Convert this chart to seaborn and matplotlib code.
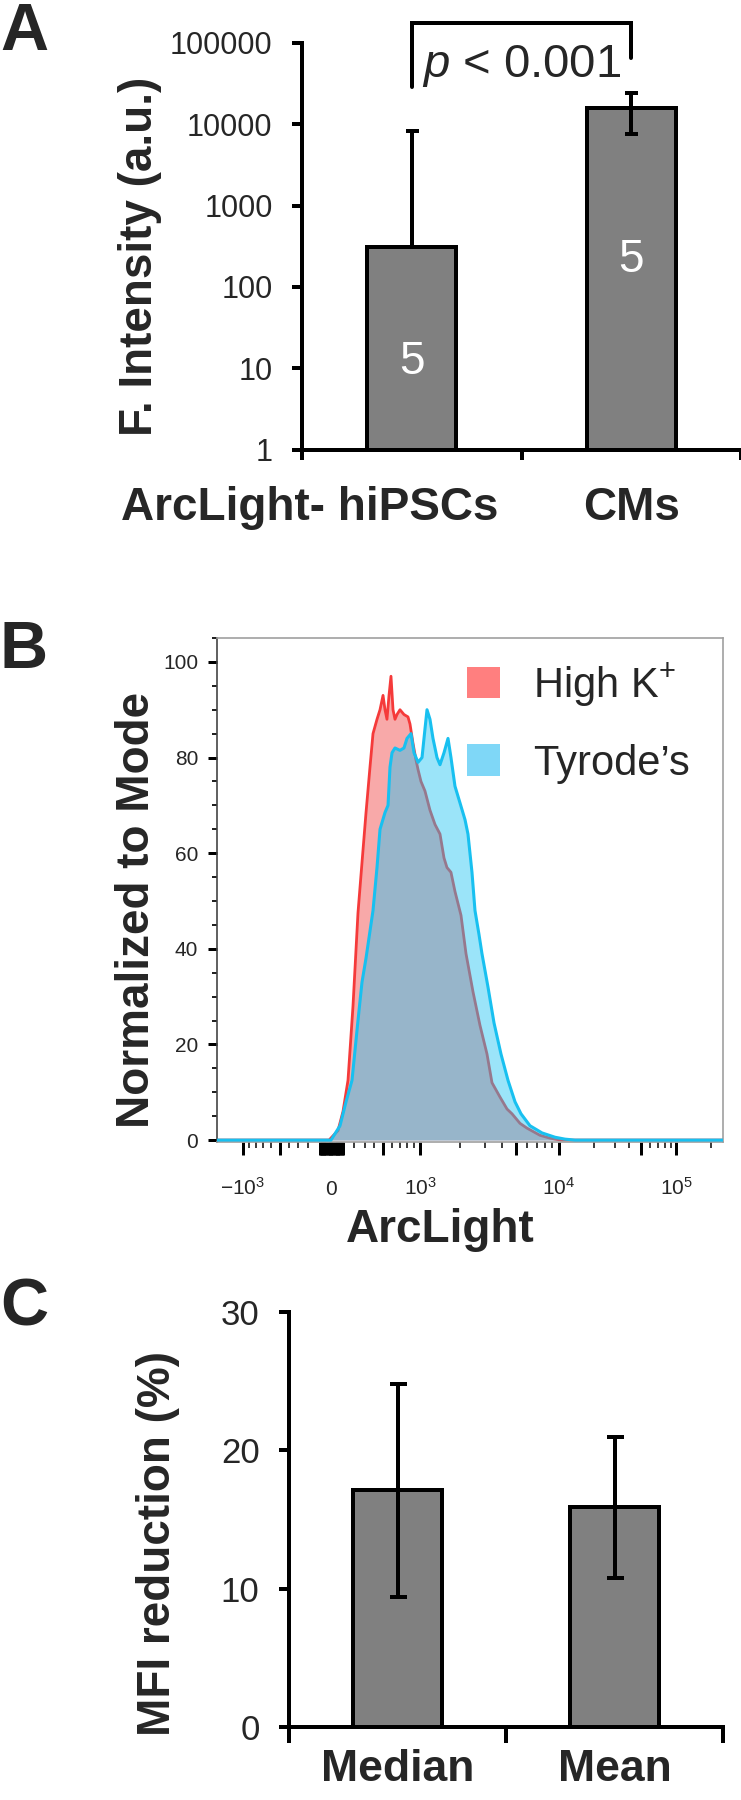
import numpy as np
import pandas as pd
import seaborn as sns
import matplotlib.pyplot as plt
from matplotlib.patches import Patch
from matplotlib.ticker import NullLocator
from matplotlib.transforms import blended_transform_factory

# ---- data -------------------------------------------------------------
# A: fluorescence intensity (log scale)
a_groups = ['ArcLight- hiPSCs', 'CMs']
a_means = [310, 15700]
a_err_lo = [0, 8000]
a_err_hi = [7900, 8300]
a_n = [5, 5]

# B: flow histograms, x in display channels (0-1024), y normalized to mode
red_ch = [0, 226.7, 244.9, 255.0, 265.1, 275.2, 285.3, 293.4, 301.5, 309.6, 315.7,
          323.8, 329.9, 336.0, 340.0, 344.0, 348.1, 352.1, 356.2, 360.2, 364.3,
          370.3, 378.4, 386.5, 390.6, 396.6, 402.7, 406.8, 412.8, 420.9, 431.0,
          441.2, 451.3, 459.4, 465.4, 473.5, 481.6, 493.8, 503.9, 518.1, 532.2,
          546.4, 556.5, 572.7, 586.9, 597.0, 613.2, 627.3, 653.7, 673.9, 696.2, 1024]
red_val = [0, 0, 2, 6, 12.5, 28, 47.5, 58, 68.4, 78, 85,
           88, 90, 93, 90, 88, 93, 97, 90, 88, 89,
           90, 89, 88.5, 87, 83, 79.5, 77.5, 75, 73, 69,
           66, 64, 59, 57, 56, 52, 47, 39, 31, 24,
           18, 12, 9, 6.5, 5.5, 3.5, 2.5, 1, 0.4, 0, 0]
blue_ch = [0, 230.7, 248.9, 261.1, 273.2, 285.3, 293.4, 301.5, 315.7, 323.8, 329.9,
           340.0, 346.1, 350.1, 354.2, 360.2, 370.3, 378.4, 384.5, 392.6, 398.7,
           406.8, 414.9, 420.9, 425.0, 431.0, 437.1, 445.2, 451.3, 459.4, 467.5,
           473.5, 481.6, 491.8, 501.9, 507.9, 516.0, 522.1, 530.2, 536.2, 548.4,
           560.6, 574.7, 588.9, 603.1, 615.2, 633.4, 657.7, 684.0, 704.2, 724.5, 1024]
blue_val = [0, 0, 3, 8, 12.5, 25, 33, 38, 48, 57, 65,
            68.5, 70, 78, 81, 82, 81.5, 82, 84, 85, 81,
            79, 80, 86, 90, 88, 84, 80, 78.5, 81, 84,
            80, 74, 70.5, 67, 64, 56, 48, 43, 39, 32,
            24.5, 18, 12.5, 8, 5.5, 3, 1.5, 0.6, 0.2, 0, 0]
b_series = ['High K$^\\mathregular{+}$', 'Tyrode\u2019s']

# biexponential axis: fluorescence value -> display channel
b_anchor_vals = [-1000, -500, 0, 500, 1000, 1e4, 1e5, 1e6]
b_anchor_ch = [52.6, 127.5, 230.7, 335.9, 410.8, 692.1, 928.9, 1165.7]
b_label_vals = [-1000, 0, 1000, 1e4, 1e5]
b_labels = ['$\\mathregular{-10^3}$', '0', '$\\mathregular{10^3}$',
            '$\\mathregular{10^4}$', '$\\mathregular{10^5}$']

# C: MFI reduction
c_groups = ['Median', 'Mean']
c_means = [17.1, 15.9]
c_err = [7.7, 5.1]

# ---- style --------------------------------------------------------------
sns.set_theme(style='white')
plt.rcParams['font.family'] = ['Liberation Sans', 'DejaVu Sans']
plt.rcParams['mathtext.fontset'] = 'custom'
plt.rcParams['mathtext.rm'] = 'Liberation Sans'
plt.rcParams['mathtext.it'] = 'Liberation Sans:italic'
plt.rcParams['mathtext.bf'] = 'Liberation Sans:bold'

W, H = 741, 1800
PT = 0.72  # points per pixel at dpi 100
fig = plt.figure(figsize=(W / 100, H / 100), dpi=100)
fig.patch.set_facecolor('white')


def rect(l, t, r, b):
    return [l / W, 1 - b / H, (r - l) / W, (b - t) / H]


def ftext(x, y, s, **kw):
    fig.text(x / W, 1 - y / H, s, **kw)


def to_channel(v):
    v = np.asarray(v, dtype=float)
    return np.interp(np.arcsinh(v / 500), np.arcsinh(np.array(b_anchor_vals) / 500), b_anchor_ch)


GRAY = '#808080'

# ---- panel A --------------------------------------------------------------
axA = fig.add_axes(rect(302, 43, 741, 449.5))
dfA = pd.DataFrame({'group': a_groups, 'value': a_means})
sns.barplot(data=dfA, x='group', y='value', color=GRAY, saturation=1, width=0.405,
            edgecolor='black', linewidth=4 * PT, errorbar=None, ax=axA)
axA.set_yscale('log')
axA.set_ylim(1, 1e5)
axA.set_xlim(-0.5, 1.5)
axA.errorbar([0, 1], a_means, yerr=[a_err_lo, a_err_hi], fmt='none', ecolor='black',
             elinewidth=4 * PT, capsize=6.5 * PT, capthick=4 * PT, zorder=5)
axA.set_yticks([1, 10, 100, 1000, 10000, 100000],
               ['1', '10', '100', '1000', '10000', '100000'])
axA.yaxis.set_minor_locator(NullLocator())
axA.set_xticks([-0.5, 0.5, 1.5], ['', '', ''])
axA.tick_params(axis='y', left=True, length=10 * PT, width=4 * PT, labelsize=22,
                pad=14, color='black', direction='out')
axA.tick_params(axis='x', bottom=True, length=10 * PT, width=4 * PT, color='black',
                direction='out')
axA.set_xlabel('')
axA.set_ylabel('')
for s in ['top', 'right']:
    axA.spines[s].set_visible(False)
for s in ['left', 'bottom']:
    axA.spines[s].set_color('black')
    axA.spines[s].set_linewidth(4 * PT)

trA = blended_transform_factory(axA.transData, axA.transAxes)
for i, (n, yf) in enumerate(zip(a_n, [0.215, 0.466])):
    axA.text(i, yf, str(n), transform=trA, color='white', fontsize=33,
             ha='center', va='center', zorder=6)
axA.plot([0, 0, 1, 1], [2.9e4, 1.76e5, 1.76e5, 6.5e4], color='black',
         lw=4 * PT, clip_on=False, solid_joinstyle='miter')
axA.text(0.5, 3.8e4, '$\\mathit{p}$ < 0.001', fontsize=34, ha='center', va='baseline')

ftext(310, 520, a_groups[0], fontsize=33, fontweight='bold', ha='center', va='baseline')
ftext(632, 520, a_groups[1], fontsize=33, fontweight='bold', ha='center', va='baseline')
ftext(140, 256, 'F. Intensity (a.u.)', fontsize=33, fontweight='bold', rotation=90,
      ha='center', va='center')
ftext(0, 50, 'A', fontsize=48, fontweight='bold', ha='left', va='baseline')

# ---- panel B --------------------------------------------------------------
axB = fig.add_axes(rect(217, 638, 723, 1142))
axB.fill_between(red_ch, red_val, color='#f03232', alpha=0.42, lw=0, zorder=1)
sns.lineplot(x=red_ch, y=red_val, color='#f53a3a', lw=2, ax=axB, zorder=1.5)
axB.fill_between(blue_ch, blue_val, color='#22c5f3', alpha=0.45, lw=0, zorder=2)
sns.lineplot(x=blue_ch, y=blue_val, color='#18c0f0', lw=2.2, ax=axB, zorder=3)
axB.set_xlim(0, 1024)
axB.set_ylim(-0.4, 105)

axB.set_yticks([0, 20, 40, 60, 80, 100], ['0', '20', '40', '60', '80', '100'])
axB.set_yticks([5, 10, 15, 25, 30, 35, 45, 50, 55, 65, 70, 75, 85, 90, 95, 105], minor=True)
axB.tick_params(axis='y', which='major', left=True, length=9 * PT, width=3 * PT,
                labelsize=15, pad=7, color='black', direction='out')
axB.tick_params(axis='y', which='minor', left=True, length=5 * PT, width=2 * PT,
                color='#222222', direction='out')

near_zero = [s * m * 10 for s in (-1, 1) for m in range(1, 11)]
major_vals = [-1000, -500, 0, 500, 1000, 5e3, 1e4, 5e4, 1e5] + near_zero
minor_vals = [s * m * 100 for s in (-1, 1) for m in range(2, 10) if m != 5]
minor_vals += [m * d for d in (1e3, 1e4) for m in range(2, 10) if m != 5] + [2e5]
axB.set_xticks(to_channel(major_vals), [''] * len(major_vals))
axB.set_xticks(to_channel(minor_vals), minor=True)
axB.tick_params(axis='x', which='major', bottom=True, length=13 * PT, width=3 * PT,
                color='black', direction='out')
axB.tick_params(axis='x', which='minor', bottom=True, length=6 * PT, width=1.5 * PT,
                color='black', direction='out')
trB = blended_transform_factory(axB.transData, axB.transAxes)
for v, lab in zip(b_label_vals, b_labels):
    axB.text(to_channel(v), -0.105, lab, transform=trB, fontsize=15,
             ha='center', va='baseline')
axB.set_xlabel('')
axB.set_ylabel('')
axB.spines['left'].set_color('#444444')
for s in ['top', 'right', 'bottom']:
    axB.spines[s].set_color('#a0a0a0')
for s in axB.spines:
    axB.spines[s].set_linewidth(1.2)

handles = [Patch(facecolor='#ff7f7f', edgecolor='none'),
           Patch(facecolor='#7fd7f7', edgecolor='none')]
axB.legend(handles, b_series, loc='upper left',
           bbox_to_anchor=((467 - 217) / 506, 1 - (661 - 638) / 504),
           frameon=False, fontsize=30, handlelength=0.79, handleheight=0.79,
           handletextpad=0.8, labelspacing=0.84, borderpad=0, borderaxespad=0)

ftext(440, 1242, 'ArcLight', fontsize=33, fontweight='bold', ha='center', va='baseline')
ftext(137, 910, 'Normalized to Mode', fontsize=33, fontweight='bold', rotation=90,
      ha='center', va='center')
ftext(0, 668, 'B', fontsize=48, fontweight='bold', ha='left', va='baseline')

# ---- panel C --------------------------------------------------------------
axC = fig.add_axes(rect(289, 1312, 723, 1727))
dfC = pd.DataFrame({'group': c_groups, 'value': c_means})
sns.barplot(data=dfC, x='group', y='value', color=GRAY, saturation=1, width=0.41,
            edgecolor='black', linewidth=4 * PT, errorbar=None, ax=axC)
axC.errorbar([0, 1], c_means, yerr=c_err, fmt='none', ecolor='black',
             elinewidth=4 * PT, capsize=8.5 * PT, capthick=4 * PT, zorder=5)
axC.set_ylim(0, 30)
axC.set_xlim(-0.5, 1.5)
axC.set_yticks([0, 10, 20, 30], ['0', '10', '20', '30'])
axC.set_xticks([0, 1], c_groups)
axC.set_xticks([-0.5, 0.5, 1.5], minor=True)
axC.tick_params(axis='y', left=True, length=10 * PT, width=4 * PT, labelsize=25,
                pad=14, color='black', direction='out')
axC.tick_params(axis='x', which='major', bottom=True, length=0, pad=16, labelsize=32)
axC.tick_params(axis='x', which='minor', bottom=True, length=16 * PT, width=4 * PT,
                color='black', direction='out')
for lab in axC.get_xticklabels():
    lab.set_fontweight('bold')
axC.set_xlabel('')
axC.set_ylabel('')
for s in ['top', 'right']:
    axC.spines[s].set_visible(False)
for s in ['left', 'bottom']:
    axC.spines[s].set_color('black')
    axC.spines[s].set_linewidth(4 * PT)

ftext(158, 1544, 'MFI reduction (%)', fontsize=33, fontweight='bold', rotation=90,
      ha='center', va='center')
ftext(0, 1326, 'C', fontsize=48, fontweight='bold', ha='left', va='baseline')

fig.savefig('out.png', dpi=100, facecolor='white')
